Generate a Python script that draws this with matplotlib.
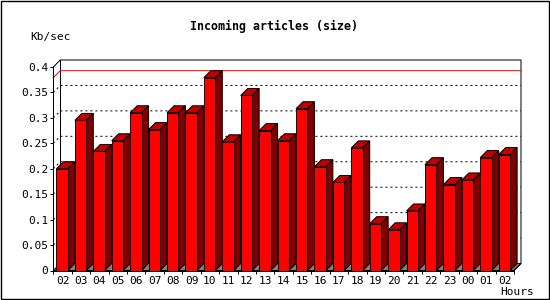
import numpy as np
import matplotlib
matplotlib.use('Agg')
import matplotlib.pyplot as plt
from matplotlib.patches import Polygon, Rectangle

# ==============================================================================
# Data
#
hours = ['02', '03', '04', '05', '06', '07', '08', '09', '10', '11', '12',
         '13', '14', '15', '16', '17', '18', '19', '20', '21', '22', '23',
         '00', '01', '02']
kb_per_sec = [0.200, 0.295, 0.234, 0.255, 0.310, 0.277, 0.310, 0.310, 0.379,
              0.253, 0.344, 0.275, 0.255, 0.318, 0.204, 0.173, 0.241, 0.092,
              0.080, 0.117, 0.208, 0.169, 0.178, 0.222, 0.228]
y_ticks = [0, 0.05, 0.1, 0.15, 0.2, 0.25, 0.3, 0.35, 0.4]

# ==============================================================================
# Constants
#
W, H = 550, 300
DEPTH = 7                      # pixels of 3D offset
LW = 0.72                      # 1 pixel
FRONT_COLOR = '#ff0000'
TOP_COLOR = '#c00000'
SIDE_COLOR = '#800000'
FLOOR_COLOR = '#808080'
MAX_COLOR = '#ff0000'
FONT = 'DejaVu Sans Mono'
BAR_START, BAR_END = 0.17, 0.79

plt.rcParams['font.family'] = FONT

fig = plt.figure(figsize=(W/100, H/100), dpi=100)
ax = fig.add_axes([53.3/W, 29.5/H, 460.7/W, 203.5/H])
ax.set_xlim(0, len(hours))
ax.set_ylim(0, 0.4)
ax.patch.set_visible(False)

                                                    # depth offset in data units
origin = ax.transData.transform((0, 0))
dx, dy = ax.transData.inverted().transform(origin + np.array([DEPTH, DEPTH]))
n = len(hours)
top = y_ticks[-1]

                                                                         # floor
ax.add_patch(Polygon([(0, 0), (n, 0), (n + dx, dy), (dx, dy)],
                     closed=True, facecolor=FLOOR_COLOR, edgecolor='black',
                     linewidth=LW, zorder=1, clip_on=False))
                                                                    # back frame
ax.plot([0, dx, n + dx, n + dx, n], [top, top + dy, top + dy, dy, 0],
        color='black', linewidth=LW, zorder=1, clip_on=False)
ax.plot([dx, dx], [dy, top + dy], color='black', linewidth=LW, zorder=1,
        clip_on=False)
                                                                     # gridlines
for value in y_ticks[1:-1]:
    ax.plot([0, dx, n + dx], [value, value + dy, value + dy],
            color='black', linewidth=LW, dashes=(2, 3), zorder=2,
            clip_on=False)
                                                                      # max line
peak = max(kb_per_sec)
ax.plot([0, dx, n + dx], [peak, peak + dy, peak + dy],
        color=MAX_COLOR, linewidth=LW, zorder=2, clip_on=False)

                                                                          # bars
for index, value in enumerate(kb_per_sec):
    x0 = index + BAR_START
    x1 = index + BAR_END
    z = 3 + index
    ax.add_patch(Polygon([(x1, 0), (x1 + dx, dy), (x1 + dx, value + dy),
                          (x1, value)], closed=True, facecolor=SIDE_COLOR,
                         edgecolor='black', linewidth=LW, zorder=z,
                         clip_on=False))
    ax.add_patch(Polygon([(x0, value), (x1, value), (x1 + dx, value + dy),
                          (x0 + dx, value + dy)], closed=True,
                         facecolor=TOP_COLOR, edgecolor='black',
                         linewidth=LW, zorder=z, clip_on=False))
ax.bar([i + BAR_START for i in range(n)], kb_per_sec,
       width=BAR_END - BAR_START, align='edge', color=FRONT_COLOR,
       edgecolor='black', linewidth=LW, clip_on=False)
# each front sits above its own side and top, below the next bar
for index, patch in enumerate(ax.patches[-n:]):
    patch.set_zorder(3 + index + 0.5)

                                                                          # axes
for side in ['top', 'right']:
    ax.spines[side].set_visible(False)
for side in ['left', 'bottom']:
    ax.spines[side].set_linewidth(LW)
    ax.spines[side].set_zorder(50)
ax.set_yticks(y_ticks)
ax.set_yticklabels(['%g' % v for v in y_ticks])
ax.set_xticks(range(n + 1))
ax.set_xticklabels([])
ax.set_xticks([i + 0.5 for i in range(n)], minor=True)
ax.set_xticklabels(hours, minor=True)
ax.tick_params(axis='y', which='major', length=2.5, width=LW, pad=1,
               labelsize=8)
ax.tick_params(axis='x', which='major', length=2.5, width=LW)
ax.tick_params(axis='x', which='minor', length=0, pad=3.6, labelsize=8)

                                                                          # text
fig.text(273.5/W, 1 - 26/H, 'Incoming articles (size)', ha='center',
         va='center', fontsize=8.4, fontweight='bold')
fig.text(30/W, 1 - 37/H, 'Kb/sec', ha='left', va='center', fontsize=8)
fig.text(534/W, 1 - 292/H, 'Hours', ha='right', va='center', fontsize=8)

                                                                        # border
fig.add_artist(Rectangle((0.5/W, 1.0/H), 548/W, 298/H, fill=False,
                         edgecolor='black', linewidth=LW * 1.4,
                         transform=fig.transFigure))

plt.savefig('out.png', dpi=100)
